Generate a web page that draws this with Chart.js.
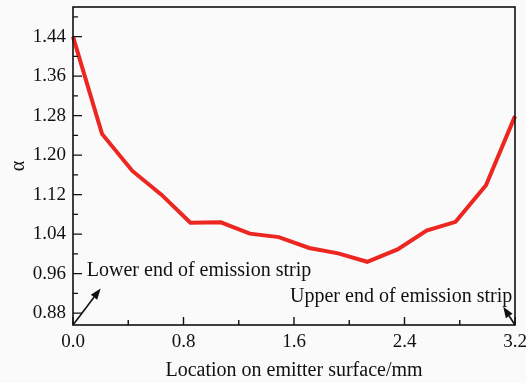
<!DOCTYPE html>
<html>
<head>
<meta charset="utf-8">
<script src="https://cdn.jsdelivr.net/npm/chart.js@4/dist/chart.umd.min.js"></script>
<style>
    html, body { margin: 0; padding: 0; background: #fafafa; }
    #wrap { width: 526px; height: 383px; }
</style>
</head>
<body>
<div id="wrap"><canvas id="myChart" width="526" height="383"></canvas></div>
<script>
// values
const locations = [0, 0.21, 0.43, 0.64, 0.85, 1.07, 1.28, 1.49, 1.71, 1.92, 2.13, 2.35, 2.56, 2.77, 2.99, 3.2];
const alphaValues = [1.44, 1.243, 1.168, 1.12, 1.063, 1.064, 1.041, 1.034, 1.012, 1.001, 0.984, 1.009, 1.047, 1.065, 1.139, 1.279];
const xTickStep = 0.4;
const xLabelStep = 0.8;
const yTicks = [0.88, 0.92, 0.96, 1.00, 1.04, 1.08, 1.12, 1.16, 1.20, 1.24, 1.28, 1.32, 1.36, 1.40, 1.44, 1.48];
const yLabelStep = 0.08;
const notes = [
    { text: 'Lower end of emission strip', x: 0.1, y: 0.966, align: 'left', from: [0, 0.856], to: [0.2, 0.93] },
    { text: 'Upper end of emission strip', x: 3.18, y: 0.913, align: 'right', from: [3.2, 0.856], to: [3.115, 0.893] }
];

const serif = "'Liberation Serif', 'Times New Roman', serif";

function isMultiple(v, step) {
    const r = v / step;
    return Math.abs(r - Math.round(r)) < 1e-6;
}

// frame, inward ticks and the two notes
const framePlugin = {
    id: 'frame',
    beforeDraw(chart) {
        const ctx = chart.ctx;
        ctx.save();
        ctx.fillStyle = '#fafafa';
        ctx.fillRect(0, 0, chart.width, chart.height);
        ctx.restore();
    },
    afterDraw(chart) {
        const ctx = chart.ctx;
        const area = chart.chartArea;
        const xs = chart.scales.x;
        const ys = chart.scales.y;
        ctx.save();
        ctx.strokeStyle = '#111';
        ctx.lineWidth = 1.6;
        ctx.strokeRect(area.left, area.top, area.right - area.left, area.bottom - area.top);

        ctx.lineWidth = 1.4;
        ctx.beginPath();
        xs.ticks.forEach(t => {
            const px = xs.getPixelForValue(t.value);
            const len = isMultiple(t.value, xLabelStep) ? 8 : 5;
            ctx.moveTo(px, area.bottom);
            ctx.lineTo(px, area.bottom - len);
        });
        ys.ticks.forEach(t => {
            const py = ys.getPixelForValue(t.value);
            const len = isMultiple(t.value, yLabelStep) ? 9 : 5;
            ctx.moveTo(area.left, py);
            ctx.lineTo(area.left + len, py);
        });
        ctx.stroke();

        ctx.font = '20px ' + serif;
        ctx.fillStyle = '#111';
        ctx.textBaseline = 'middle';
        notes.forEach(n => {
            ctx.textAlign = n.align;
            ctx.fillText(n.text, xs.getPixelForValue(n.x), ys.getPixelForValue(n.y));

            const x0 = xs.getPixelForValue(n.from[0]), y0 = ys.getPixelForValue(n.from[1]);
            const x1 = xs.getPixelForValue(n.to[0]), y1 = ys.getPixelForValue(n.to[1]);
            const ang = Math.atan2(y1 - y0, x1 - x0);
            const head = 11, half = 4;
            const bx = x1 - head * Math.cos(ang), by = y1 - head * Math.sin(ang);
            ctx.beginPath();
            ctx.moveTo(x0, y0);
            ctx.lineTo(bx, by);
            ctx.lineWidth = 1.6;
            ctx.stroke();
            ctx.beginPath();
            ctx.moveTo(x1, y1);
            ctx.lineTo(bx + half * Math.sin(ang), by - half * Math.cos(ang));
            ctx.lineTo(bx - half * Math.sin(ang), by + half * Math.cos(ang));
            ctx.closePath();
            ctx.fill();
        });
        ctx.restore();
    }
};

function createChart() {
    const ctx = document.getElementById('myChart').getContext('2d');
    new Chart(ctx, {
        type: 'scatter',
        data: {
            datasets: [{
                label: 'alpha',
                data: locations.map((x, i) => ({ x: x, y: alphaValues[i] })),
                showLine: true,
                borderColor: 'rgb(236, 38, 33)',
                borderWidth: 4,
                pointRadius: 0,
                tension: 0,
                clip: false
            }]
        },
        options: {
            responsive: false,
            animation: false,
            layout: { padding: { top: 7, right: 11, left: 0, bottom: 0 } },
            plugins: {
                legend: { display: false },
                tooltip: { enabled: false }
            },
            scales: {
                x: {
                    type: 'linear',
                    min: 0,
                    max: 3.2,
                    grid: { display: false, drawTicks: false },
                    border: { display: false },
                    ticks: {
                        stepSize: xTickStep,
                        autoSkip: false,
                        maxRotation: 0,
                        padding: 6,
                        color: '#111',
                        font: { family: serif, size: 19 },
                        callback: v => isMultiple(v, xLabelStep) ? v.toFixed(1) : ''
                    },
                    title: {
                        display: true,
                        text: 'Location on emitter surface/mm',
                        color: '#111',
                        font: { family: serif, size: 20 },
                        padding: { top: 0, bottom: 0 }
                    },
                    afterFit: s => { s.height = 58; s.paddingLeft = 0; s.paddingRight = 0; }
                },
                y: {
                    min: 0.856,
                    max: 1.5,
                    grid: { display: false, drawTicks: false },
                    border: { display: false },
                    afterBuildTicks: s => { s.ticks = yTicks.map(v => ({ value: v })); },
                    ticks: {
                        autoSkip: false,
                        padding: 7,
                        color: '#111',
                        font: { family: serif, size: 19 },
                        callback: v => isMultiple(v, yLabelStep) ? v.toFixed(2) : ''
                    },
                    title: {
                        display: true,
                        text: 'α',
                        color: '#111',
                        font: { family: serif, size: 20 },
                        padding: { top: 7, bottom: 0 }
                    },
                    afterFit: s => { s.width = 73; s.paddingTop = 0; s.paddingBottom = 0; }
                }
            }
        },
        plugins: [framePlugin]
    });
}

document.addEventListener('DOMContentLoaded', createChart);
</script>
</body>
</html>
